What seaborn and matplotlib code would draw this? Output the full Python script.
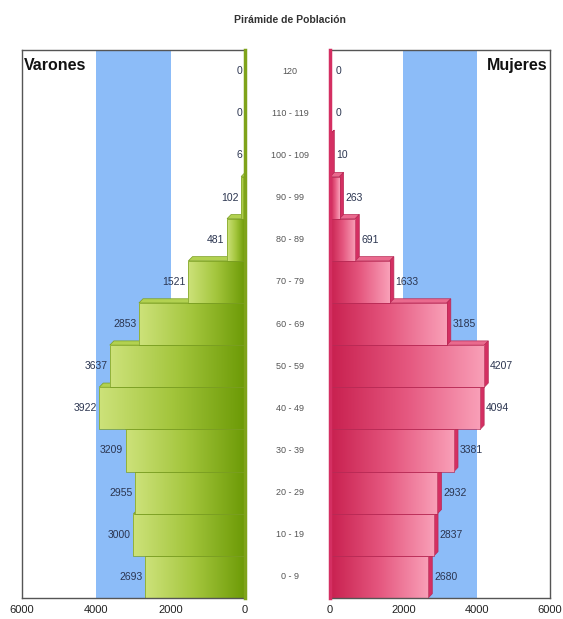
import numpy as np
import pandas as pd
import matplotlib
matplotlib.use("Agg")
import matplotlib.pyplot as plt
import seaborn as sns
from matplotlib.colors import LinearSegmentedColormap
from matplotlib.patches import Polygon, Rectangle
from matplotlib.transforms import blended_transform_factory

# datos (de arriba hacia abajo)
edades = ['120', '110 - 119', '100 - 109', '90 - 99', '80 - 89', '70 - 79',
          '60 - 69', '50 - 59', '40 - 49', '30 - 39', '20 - 29', '10 - 19', '0 - 9']
varones = [0, 0, 6, 102, 481, 1521, 2853, 3637, 3922, 3209, 2955, 3000, 2693]
mujeres = [0, 0, 10, 263, 691, 1633, 3185, 4207, 4094, 3381, 2932, 2837, 2680]
ticks = [0, 2000, 4000, 6000]

df = pd.DataFrame({'edad': edades, 'Varones': varones, 'Mujeres': mujeres})

sns.set_style('white')
plt.rcParams['font.family'] = ['Liberation Sans', 'DejaVu Sans']

fig = plt.figure(figsize=(5.63, 6.19), dpi=100)
ax_v = fig.add_axes([0.039, 0.034, 0.396, 0.885])
ax_m = fig.add_axes([0.586, 0.034, 0.391, 0.885])

verde = LinearSegmentedColormap.from_list('verde', ['#6c9a06', '#a3c53c', '#cde27a'])
rosa = LinearSegmentedColormap.from_list('rosa', ['#c8204f', '#e5577f', '#f9a0b8'])
grad = np.linspace(0, 1, 256).reshape(1, -1)
n = len(edades)

conf = [(ax_v, 'Varones', verde, '#7a9e22', '#b2d150', '#7fa31a', 'right', -110),
        (ax_m, 'Mujeres', rosa, '#b82a55', '#ea6a8e', '#d42f62', 'left', 110)]

for ax, col, cmap, borde, tapa, lateral, lado, dx in conf:
    sns.barplot(data=df, x=col, y='edad', orient='h', ax=ax, width=1.0,
                color=cmap(0.5), linewidth=0)
    barras = list(ax.containers[0])
    ax.axvspan(2000, 4000, color='#8cbcf8', zorder=0, lw=0)
    dy = 0.1
    for i, p in enumerate(barras):
        w = p.get_width()
        z = 2 + (n - i) * 0.1
        p.set_zorder(z)
        if w <= 0:
            continue
        y0, h = p.get_y(), p.get_height()
        # cara superior y lateral (efecto 3D)
        ax.add_patch(Polygon([(0, y0), (w, y0), (w + dx, y0 - dy), (dx, y0 - dy)],
                             closed=True, fc=tapa, ec=borde, lw=0.5, zorder=z + 0.01))
        if dx > 0:
            ax.add_patch(Polygon([(w, y0), (w + dx, y0 - dy), (w + dx, y0 + h - dy),
                                  (w, y0 + h)], closed=True, fc=lateral, ec=borde,
                                 lw=0.5, zorder=z + 0.01))
        im = ax.imshow(grad, cmap=cmap, aspect='auto', zorder=z + 0.02,
                       extent=(0, w, y0 + h, y0))
        im.set_clip_path(p)
        ax.add_patch(Rectangle((0, y0), w, h, fill=False, ec=borde, lw=0.5,
                               zorder=z + 0.03))
    ax.set_ylim(n - 0.5, -0.5)
    ax.set_xticks(ticks)
    ax.set_xticklabels([str(t) for t in ticks], fontsize=8, color='#222222')
    ax.set_yticks([])
    ax.set_xlabel('')
    ax.set_ylabel('')
    ax.tick_params(axis='x', length=3, pad=2)
    for s in ax.spines.values():
        s.set_color('#555555')
        s.set_linewidth(1.0)
    ax.spines[lado].set_color(lateral)
    ax.spines[lado].set_linewidth(2.5)
    ax.spines[lado].set_zorder(10)

ax_v.set_xlim(6000, 0)
ax_m.set_xlim(0, 6000)

# etiquetas de valores
for i, (v, m) in enumerate(zip(varones, mujeres)):
    ax_v.text(v + 70, i, str(v), ha='right', va='center', fontsize=7.5,
              color='#2b3550', zorder=20)
    ax_m.text(m + 160, i, str(m), ha='left', va='center', fontsize=7.5,
              color='#2b3550', zorder=20)

# grupos de edad en el centro
tr = blended_transform_factory(ax_m.transAxes, ax_m.transData)
for i, e in enumerate(edades):
    ax_m.text(-0.18, i, e, ha='center', va='center', fontsize=6.5,
              color='#555555', transform=tr, clip_on=False)

ax_v.text(0.01, 0.985, 'Varones', transform=ax_v.transAxes, ha='left', va='top',
          fontsize=11.5, fontweight='bold', color='#111111', zorder=20)
ax_m.text(0.99, 0.985, 'Mujeres', transform=ax_m.transAxes, ha='right', va='top',
          fontsize=11.5, fontweight='bold', color='#111111', zorder=20)

fig.text(0.515, 0.968, 'Pirámide de Población', ha='center', va='center',
         fontsize=7.5, fontweight='bold', color='#333333')

fig.savefig('out.png', dpi=100)
